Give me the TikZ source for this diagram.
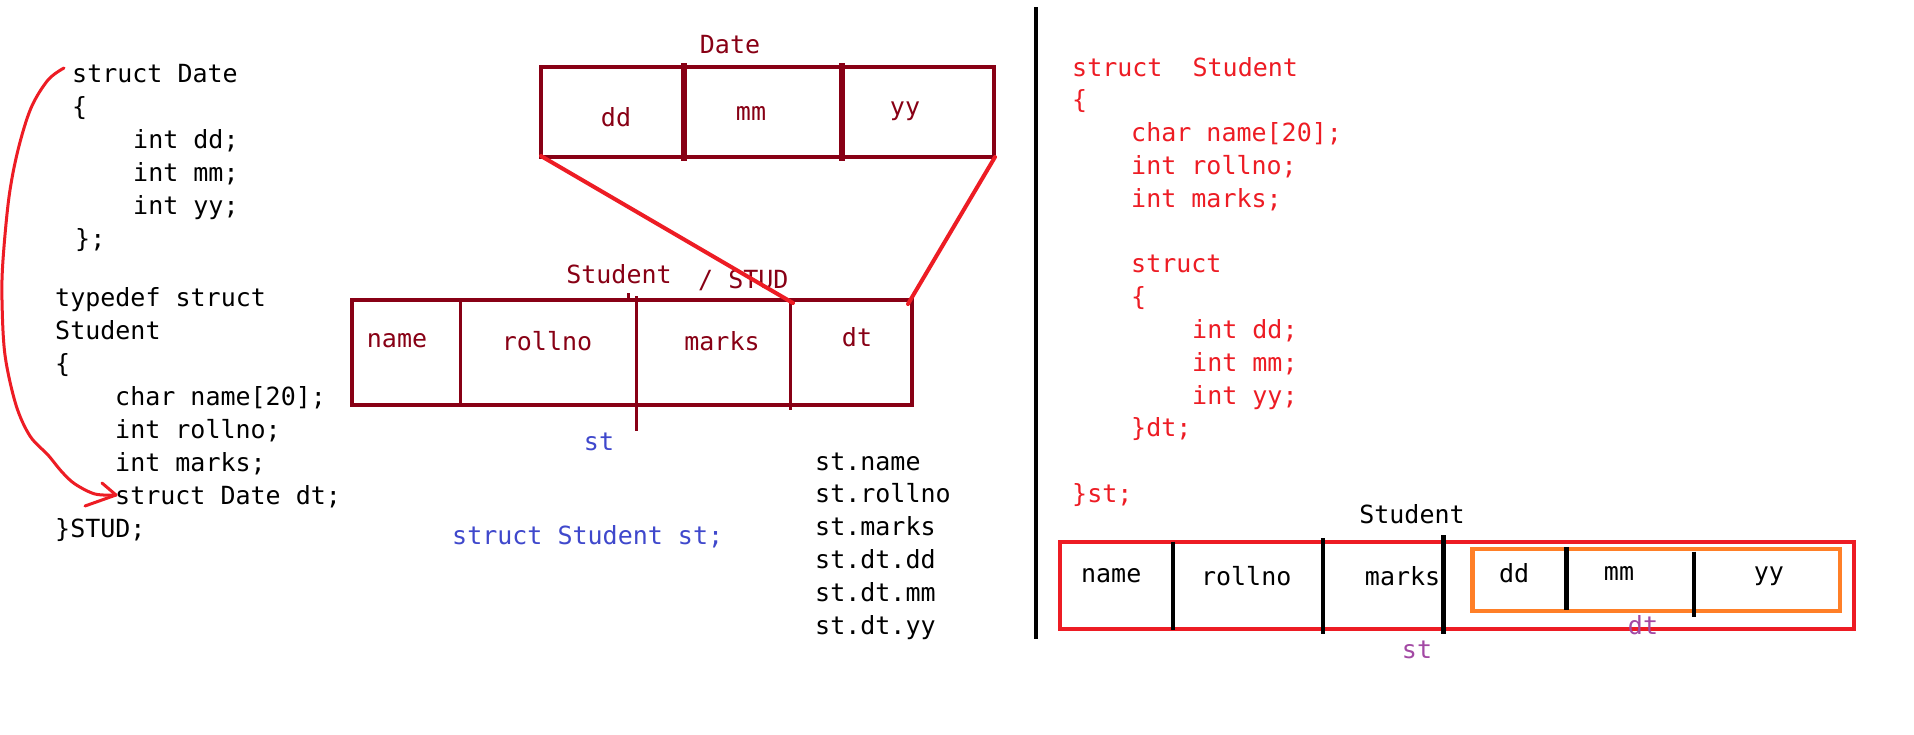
\documentclass[tikz,border=0pt]{standalone}
\usepackage{fontspec}
\setmonofont{DejaVu Sans Mono}
\definecolor{pdred}{HTML}{880015}
\definecolor{pred}{HTML}{ED1C24}
\definecolor{pblue}{HTML}{3F48CC}
\definecolor{ppurple}{HTML}{A349A4}
\definecolor{porange}{HTML}{FF7F27}
\begin{document}
\begin{tikzpicture}[x=1pt,y=-1pt,
  mono/.style={font=\ttfamily\fontsize{25}{33}\selectfont, inner sep=0pt},
  code/.style={mono, anchor=base west},
  lbl/.style={mono, anchor=center},
  dbox/.style={draw=pdred, line width=4.5},
  ddiv/.style={draw=pdred, line width=6.5},
  sbox/.style={draw=pdred, line width=4},
  sdiv/.style={draw=pdred, line width=3},
  zoomline/.style={draw=pred, line width=4, line cap=round},
  rbox/.style={draw=pred, line width=4},
  obox/.style={draw=porange, line width=4.5},
  bdiv/.style={draw=black, line width=4.5},
]
\fill[white] (0,0) rectangle (1914,734);
\useasboundingbox (0,0) rectangle (1914,734);

% ---------- left code ----------
\node[code] (a1) at (72,82) {struct Date};
\node[code] (a2) at (72,115) {\{};
\node[code] (a3) at (133,148) {int dd;};
\node[code] (a4) at (133,181) {int mm;};
\node[code] (a5) at (133,214) {int yy;};
\node[code] (a6) at (75,247) {\};};

\node[code] (b1) at (55,306) {typedef struct};
\node[code] (b2) at (55,339) {Student};
\node[code] (b3) at (55,372) {\{};
\node[code] (b4) at (115,405) {char name[20];};
\node[code] (b5) at (115,438) {int rollno;};
\node[code] (b6) at (115,471) {int marks;};
\node[code] (b7) at (115,504) {struct Date dt;};
\node[code] (b8) at (55,537) {\}STUD;};

% freehand red arrow
\coordinate (arrS) at (64,68);
\coordinate (arrT) at (116,495);
\draw[pred, line width=3, line cap=round, line join=round]
  plot[smooth, tension=0.55] coordinates {(arrS) (48,80) (31,108) (18,150) (9,197) (3,260) (2,300) (5,355) (16,405) (30,436) (48,455) (62,472) (75,484) (95,494) (arrT)};
\draw[pred, line width=3, line cap=round, line join=round] (102,483) -- (arrT) -- (85,506);

% ---------- Date box ----------
\node[mono, anchor=base, text=pdred] (dateT) at (730,53) {Date};
\draw[dbox] (541,67) rectangle (994,157);
\draw[ddiv] (684,63) -- (684,161);
\draw[ddiv] (842,63) -- (842,161);
\coordinate (dateBL) at (541,156);
\coordinate (dateBR) at (995,157);
\node[lbl, text=pdred] (ddd) at (616,117) {dd};
\node[lbl, text=pdred] (dmm) at (751,113.8) {mm};
\node[lbl, text=pdred] (dyy) at (905,111.4) {yy};

% ---------- Student box (left) ----------
\node[mono, anchor=base, text=pdred] (studT) at (619,283) {Student};
\node[mono, anchor=base west, text=pdred] (studT2) at (698,288) {/ STUD};
\draw[sbox] (352,299.6) rectangle (912,405.4);
\draw[sdiv] (460,299.6) -- (460,405.4);
\draw[sdiv] (636,296) -- (636,431);
\draw[sdiv] (790,302) -- (790,410);
\draw[sdiv] (628,293) -- (628,300);
\coordinate (studM) at (793,303);
\coordinate (studR) at (908,304);
\node[lbl, text=pdred] (sname) at (397,340.8) {name};
\node[lbl, text=pdred] (sroll) at (547,340.8) {rollno};
\node[lbl, text=pdred] (smarks) at (722,340.8) {marks};
\node[lbl, text=pdred] (sdt) at (857,337) {dt};

\draw[zoomline] (dateBL) -- (studM);
\draw[zoomline] (dateBR) -- (studR);

\node[lbl, text=pblue] (stL) at (599,441.5) {st};
\node[code, text=pblue] (decl) at (452,544) {struct Student st;};

\node[code] (m1) at (815,470) {st.name};
\node[code] (m2) at (815,502.9) {st.rollno};
\node[code] (m3) at (815,535.8) {st.marks};
\node[code] (m4) at (815,568.7) {st.dt.dd};
\node[code] (m5) at (815,601.6) {st.dt.mm};
\node[code] (m6) at (815,634.5) {st.dt.yy};

% ---------- separator ----------
\draw[black, line width=4.5] (1036,7) -- (1036,639);

% ---------- right code ----------
\node[code, text=pred] (r1) at (1072,76) {struct\ \ Student};
\node[code, text=pred] (r2) at (1072,108.8) {\{};
\node[code, text=pred] (r3) at (1131,141.6) {char name[20];};
\node[code, text=pred] (r4) at (1131,174.4) {int rollno;};
\node[code, text=pred] (r5) at (1131,207.2) {int marks;};
\node[code, text=pred] (r6) at (1131,272.8) {struct};
\node[code, text=pred] (r7) at (1131,305.6) {\{};
\node[code, text=pred] (r8) at (1192,338.4) {int dd;};
\node[code, text=pred] (r9) at (1192,371.2) {int mm;};
\node[code, text=pred] (r10) at (1192,404) {int yy;};
\node[code, text=pred] (r11) at (1131,436.8) {\}dt;};
\node[code, text=pred] (r12) at (1072,502.4) {\}st;};

% ---------- right box ----------
\node[mono, anchor=base] (rStud) at (1412,523.5) {Student};
\draw[rbox] (1060,541.7) rectangle (1854.4,628.7);
\draw[obox] (1472.3,549.2) rectangle (1839.8,611);
\draw[bdiv] (1172.8,541.7) -- (1172.8,629.7);
\draw[bdiv] (1323,538.4) -- (1323,634.4);
\draw[bdiv] (1443.6,535) -- (1443.6,634.4);
\draw[bdiv] (1566.6,546.8) -- (1566.6,609.6);
\draw[bdiv] (1694,551.5) -- (1694,617);
\node[lbl] (rname) at (1111.2,575.8) {name};
\node[lbl] (rroll) at (1246.2,575.8) {rollno};
\node[lbl] (rmarks) at (1402.6,575.8) {marks};
\node[lbl] (rdd) at (1514.2,573.5) {dd};
\node[lbl] (rmm) at (1619,573.5) {mm};
\node[lbl] (ryy) at (1768.8,575.8) {yy};
\node[lbl, text=ppurple] (rst) at (1417,649.8) {st};
\node[lbl, text=ppurple] (rdt) at (1643,625) {dt};
\end{tikzpicture}
\end{document}
